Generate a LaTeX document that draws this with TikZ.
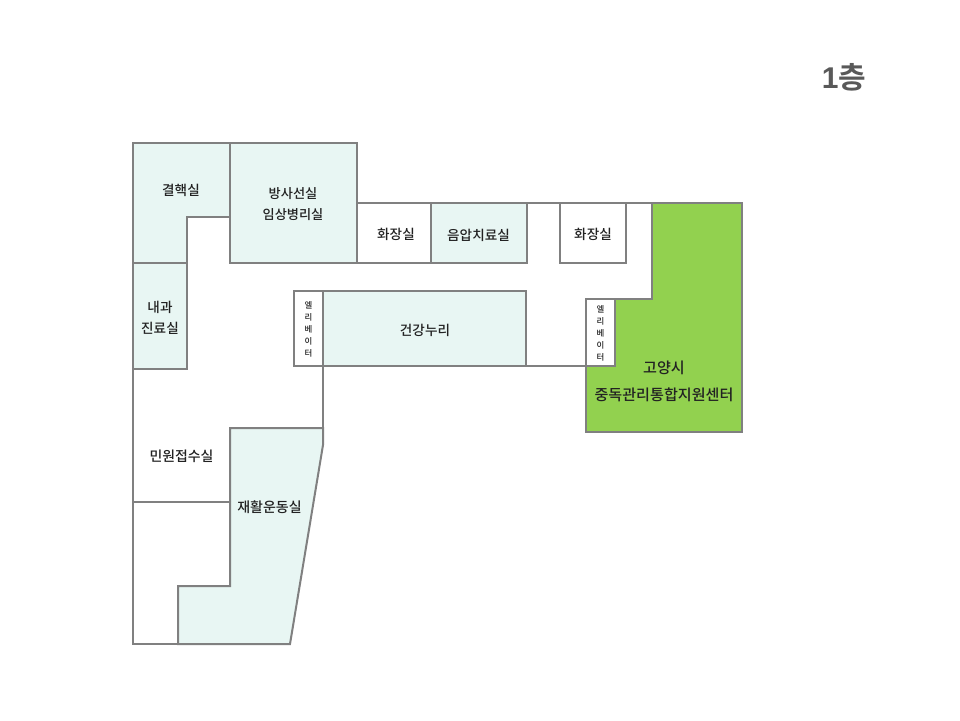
\documentclass[tikz,border=0pt]{standalone}
\usepackage{fontspec}
\setmainfont{Noto Sans CJK KR Medium}
\newfontfamily\latinbold{Liberation Sans Bold}
\newfontfamily\cjkbold{Noto Sans CJK KR Bold}
\definecolor{wallc}{HTML}{808080}
\definecolor{mint}{HTML}{E8F6F3}
\definecolor{leaf}{HTML}{92D14F}
\definecolor{ink}{HTML}{222222}
\definecolor{titlec}{HTML}{595959}
\tikzset{
  wall/.style={draw=wallc,line width=2pt,line join=miter,line cap=round},
  room/.style={wall,fill=mint},
  lift/.style={wall,fill=white},
  label/.style={text=ink,font=\fontsize{13.6}{17}\selectfont,align=center,inner sep=0pt},
  liftlabel/.style={text=ink,font=\fontsize{8.4}{12}\selectfont,align=center,inner sep=0pt},
}
\begin{document}
\begin{tikzpicture}[x=1pt,y=-1pt]
\useasboundingbox (0,0) rectangle (960,720);
\fill[white] (0,0) rectangle (960,720);
% rooms
\draw[wall,fill=leaf] (652,203) -- (742,203) -- (742,432) -- (586,432) -- (586,366) -- (615,366) -- (615,299) -- (652,299) -- cycle;
\draw[room] (133,143) -- (230,143) -- (230,217) -- (187,217) -- (187,263) -- (133,263) -- cycle;
\draw[room] (230,143) rectangle (357,263);
\draw[wall,fill=white] (357,203) rectangle (431,263);
\draw[room] (431,203) rectangle (527,263);
\draw[wall,fill=white] (560,203) rectangle (626,263);
\draw[room] (133,263) rectangle (187,369);
\draw[room] (323,291) rectangle (526,366);
\draw[lift] (294,291) rectangle (323,366);
\draw[lift] (586,299) rectangle (615,366);
\draw[room] (230,428) -- (323,428) -- (323,445) -- (290,644) -- (178,644) -- (178,586) -- (230,586) -- cycle;
% walls
\draw[wall] (527,203) -- (652,203);
\draw[wall] (526,366) -- (586,366);
\draw[wall] (323,366) -- (323,428);
\draw[wall] (133,369) -- (133,644) -- (178,644);
\draw[wall] (133,502) -- (230,502);
% labels
\node[text=titlec,font=\fontsize{30}{34}\selectfont,inner sep=0pt] (title) at (844,77.5) {{\latinbold 1}{\cjkbold 층}};
\node[label] (a) at (181,190) {결핵실};
\node[label,font=\fontsize{13.2}{21}\selectfont] (b) at (293,204) {방사선실\\임상병리실};
\node[label] (c) at (396,234) {화장실};
\node[label] (d) at (478.5,235) {음압치료실};
\node[label] (e) at (593,234) {화장실};
\node[label,font=\fontsize{13.6}{21}\selectfont] (f) at (160,318) {내과\\진료실};
\node[label] (g) at (425,330) {건강누리};
\node[label,font=\fontsize{13.9}{17}\selectfont] (h) at (181.5,456) {민원접수실};
\node[label,font=\fontsize{14}{17}\selectfont] (i) at (269.5,507) {재활운동실};
\node[label,font=\fontsize{15.1}{27}\selectfont] (j) at (664,381) {고양시\\중독관리통합지원센터};
\node[liftlabel] (k) at (308.5,329) {엘\\리\\베\\이\\터};
\node[liftlabel] (l) at (600.5,333.5) {엘\\리\\베\\이\\터};
\end{tikzpicture}
\end{document}
